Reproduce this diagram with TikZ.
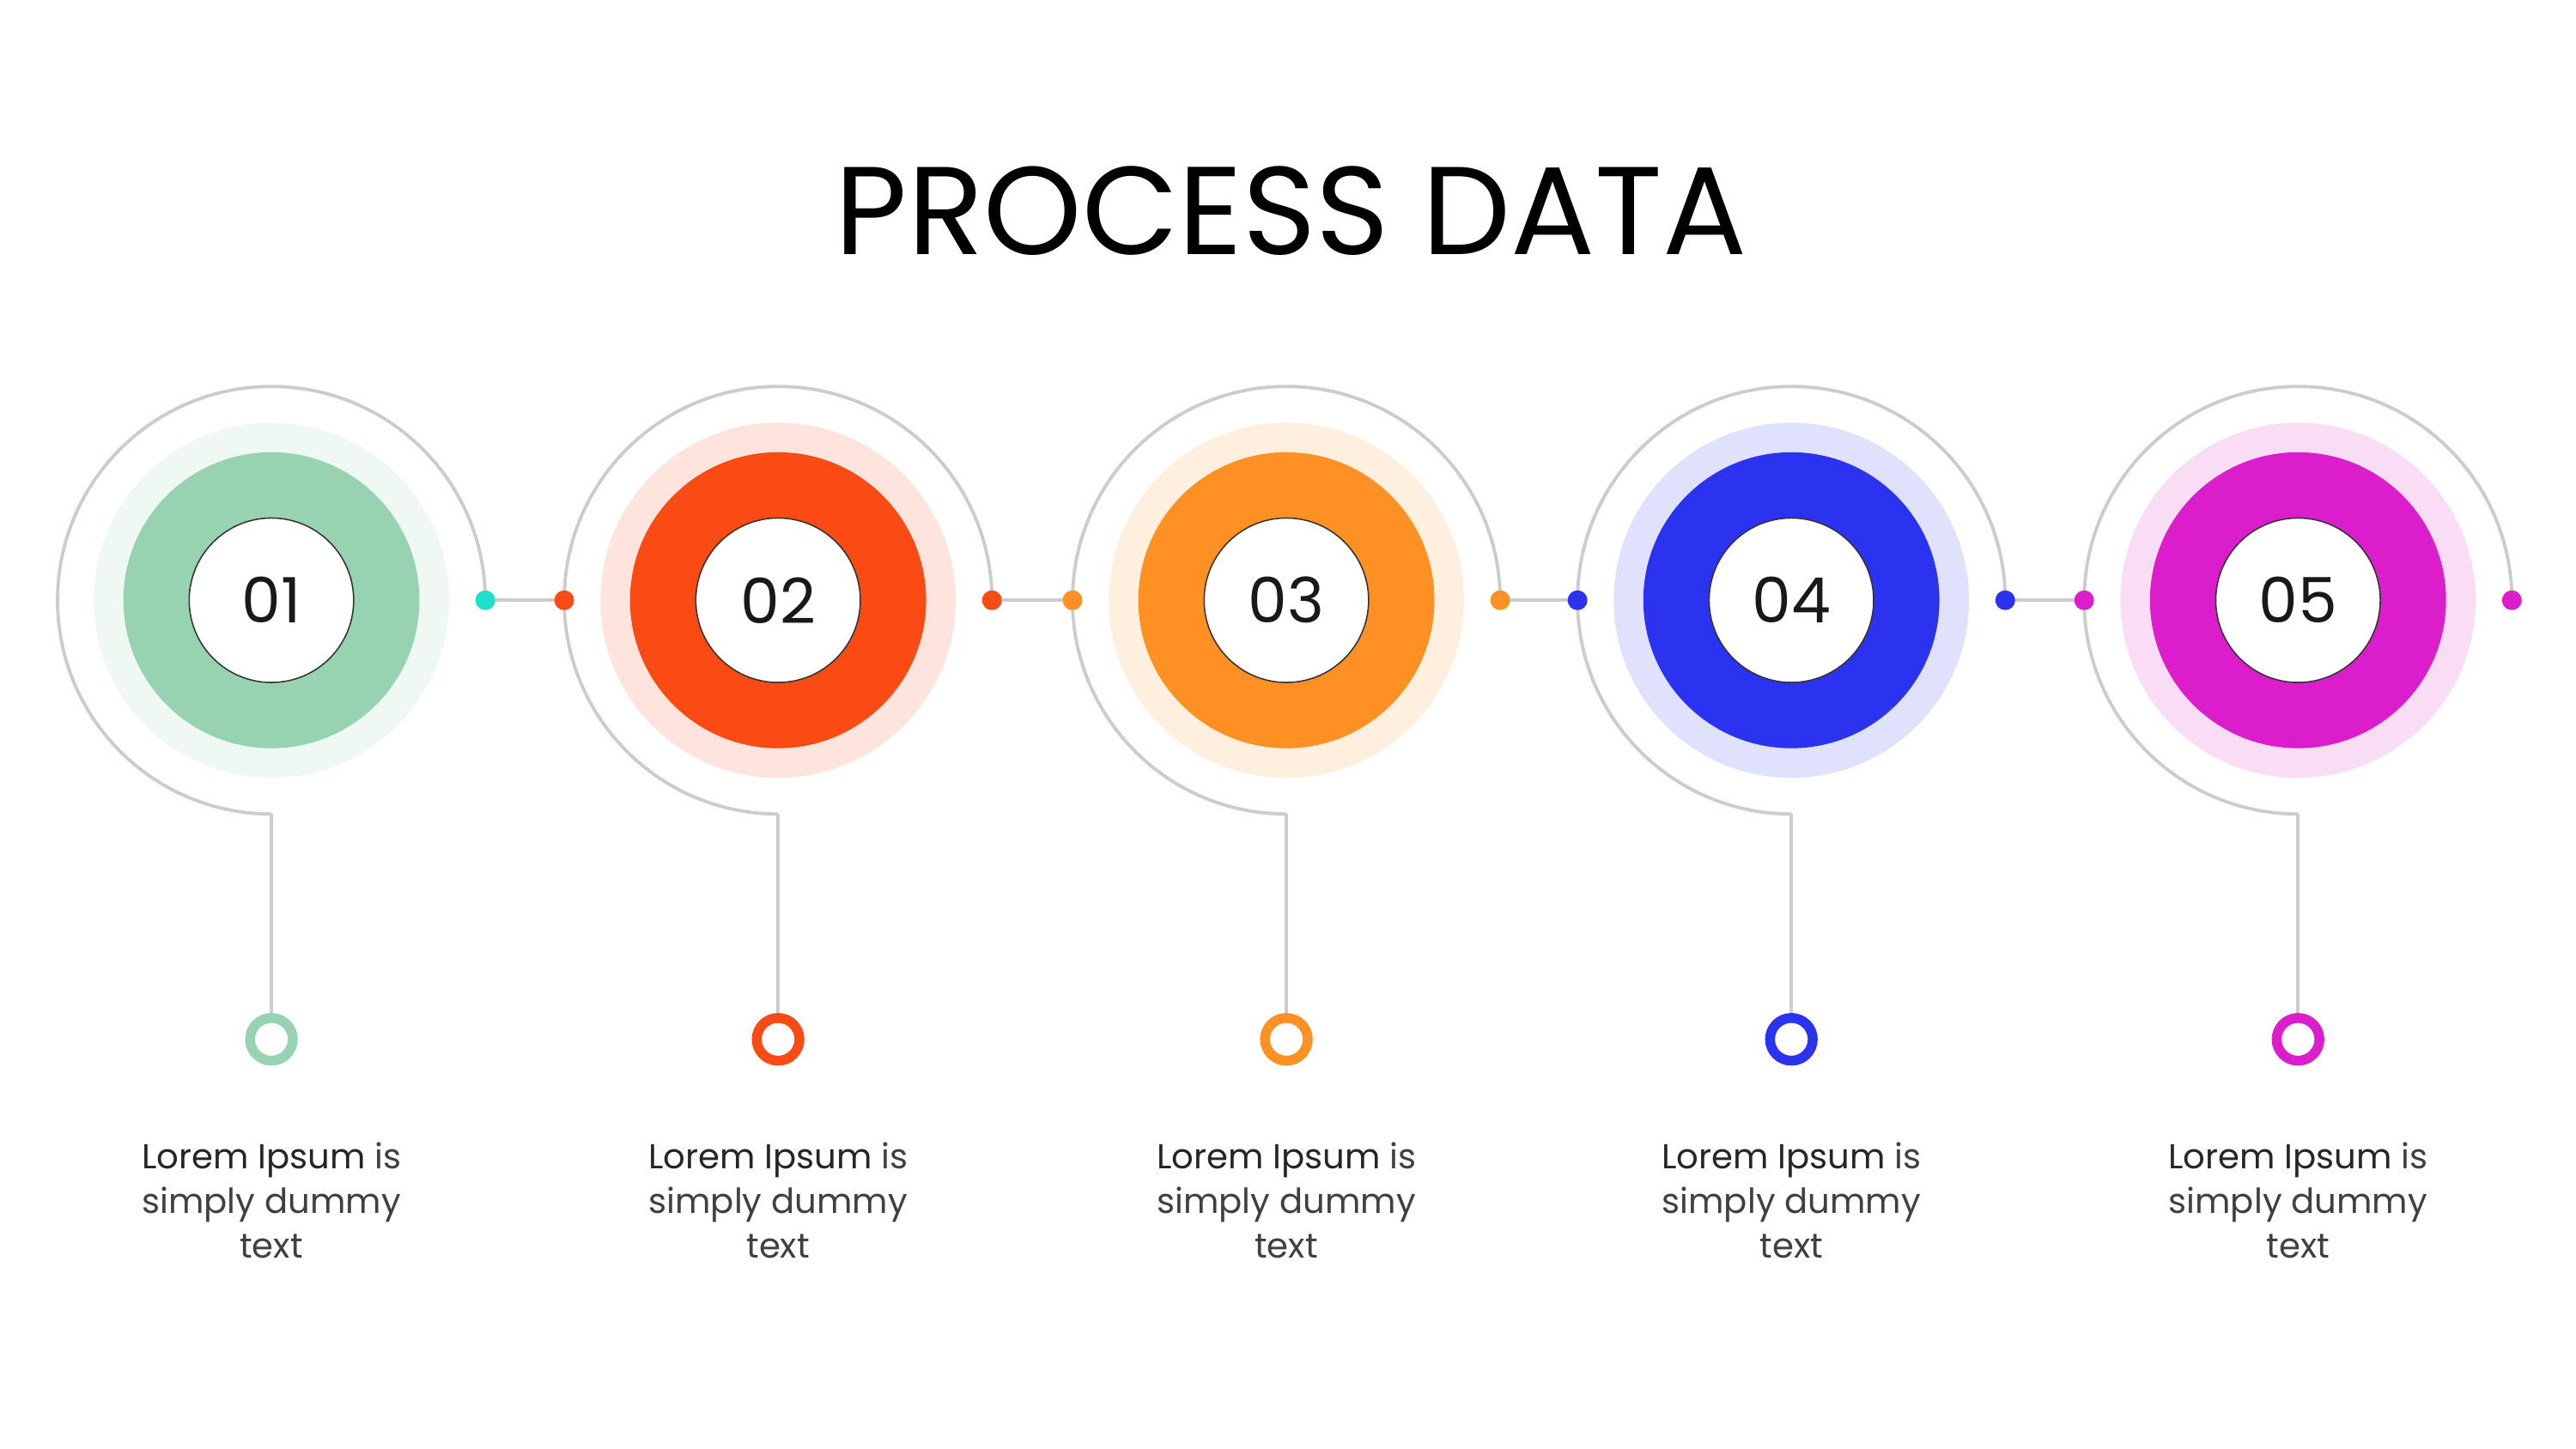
\documentclass[tikz,border=0pt]{standalone}
\usepackage{fontspec}
\setmainfont{Poppins}
\definecolor{c1}{HTML}{98D3B1}\definecolor{h1}{HTML}{EFF8F3}
\definecolor{c2}{HTML}{FA4B14}\definecolor{h2}{HTML}{FDE4DC}
\definecolor{c3}{HTML}{FF9124}\definecolor{h3}{HTML}{FFEFDF}
\definecolor{c4}{HTML}{2B33F0}\definecolor{h4}{HTML}{E0E2FC}
\definecolor{c5}{HTML}{DC1DCB}\definecolor{h5}{HTML}{F8DDF5}
\definecolor{c0}{HTML}{1DE0C8}
\definecolor{gl}{HTML}{CCCCCC}
\tikzset{gline/.style={draw=gl,line width=2pt},
 dotn/.style={circle,inner sep=0pt,minimum size=12pt},
 desc/.style={align=center,font=\fontsize{21}{27}\selectfont,text=black!85}}
\begin{document}
\begin{tikzpicture}[x=1pt,y=1pt]
\useasboundingbox[fill=white] (0,0) rectangle (1566,-881.1);
\node (title) at (785,-128) {\fontsize{76}{76}\selectfont PROCESS DATA};
\foreach \i/\x in {1/165/,2/473,3/782,4/1089,5/1397}{
  \fill[h\i] (\x,-365) circle (108);
  \fill[c\i] (\x,-365) circle (90);
  \node[circle,fill=white,draw=black!80,line width=0.8pt,minimum size=100pt,inner sep=0pt] (n\i) at (\x,-365) {\fontsize{38}{38}\selectfont\color{black!90}0\i};
  \coordinate (b\i) at (\x,-495);
  \coordinate (r\i) at (\x+130,-365);
  \coordinate (l\i) at (\x-130,-365);
  \draw[gline] (b\i) arc[start angle=270,end angle=0,radius=130];
  \node[circle,draw=c\i,line width=6pt,minimum size=26pt,inner sep=0pt] (s\i) at (\x,-632) {};
  \draw[gline] (b\i) -- (s\i.north);
  \node[desc] (t\i) at (\x,-730) {Lorem Ipsum {\color{black!75}is}\\{\color{black!75}simply dummy}\\{\color{black!75}text}};
}
\foreach \i/\j in {1/2,2/3,3/4,4/5}{
  \draw[gline] (r\i) -- (l\j);
}
\foreach \i/\c in {1/c0,2/c2,3/c3,4/c4,5/c5}{
  \node[dotn,fill=\c] (dr\i) at (r\i) {};
}
\foreach \i in {2,3,4,5}{
  \node[dotn,fill=c\i] (dl\i) at (l\i) {};
}
\end{tikzpicture}
\end{document}
